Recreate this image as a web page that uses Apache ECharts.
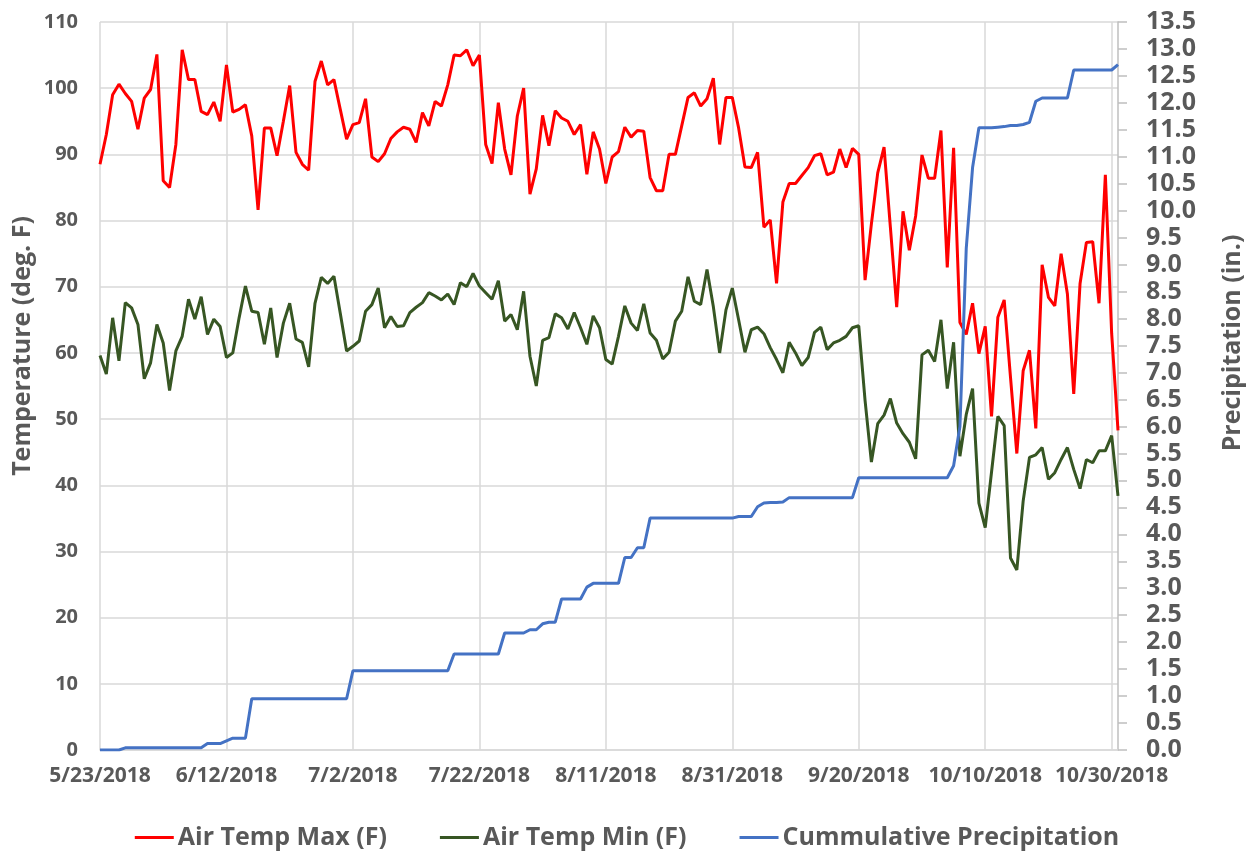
<!DOCTYPE html>
<html>
<head>
<meta charset="utf-8">
<script src="https://cdn.jsdelivr.net/npm/echarts@6/dist/echarts.min.js"></script>
<style>
html,body{margin:0;padding:0;background:#fff;}
#chart{width:1254px;height:857px;}
</style>
</head>
<body>
<div id="chart"></div>
<script>
// Dates: daily from 5/23/2018 to 10/31/2018
var startDate = '2018-05-23';
var dayCount = 162;

var airTempMax = [
  88.5, 93, 99, 100.6, 99.2, 98, 93.8, 98.5, 99.8, 105.1,
  86, 85, 91.5, 105.8, 101.3, 101.3, 96.5, 96, 97.9, 95,
  103.5, 96.4, 96.8, 97.5, 92.8, 81.6, 94, 94, 89.8, 95,
  100.4, 90.3, 88.5, 87.6, 101, 104.1, 100.5, 101.3, 96.8, 92.3,
  94.5, 94.8, 98.4, 89.6, 88.9, 90.1, 92.4, 93.4, 94.1, 93.8,
  91.8, 96.3, 94.3, 98, 97.3, 100.5, 105, 104.9, 105.8, 103.4,
  105, 91.5, 88.6, 97.8, 90.8, 86.9, 95.8, 100, 84, 87.8,
  95.9, 91.3, 96.6, 95.5, 95, 93, 94.5, 87, 93.4, 90.8,
  85.6, 89.6, 90.4, 94.1, 92.6, 93.6, 93.5, 86.5, 84.5, 84.5,
  90, 90, 94.3, 98.6, 99.3, 97.3, 98.4, 101.5, 91.5, 98.6,
  98.6, 94, 88.1, 88, 90.3, 79, 80.1, 70.5, 82.8, 85.6,
  85.6, 86.8, 88, 89.8, 90.1, 86.9, 87.3, 90.8, 88, 90.9,
  90, 71, 79.5, 87.2, 91.1, 79, 66.9, 81.4, 75.5, 80.7,
  89.9, 86.4, 86.4, 93.6, 72.9, 91, 64.6, 62.8, 67.5, 59.9,
  64, 50.4, 65.4, 68, 56.3, 44.8, 57.3, 60.4, 48.6, 73.3,
  68.4, 67.1, 75, 68.9, 53.8, 70.5, 76.7, 76.8, 67.5, 86.9,
  62.9, 48.3
];

var airTempMin = [
  59.6, 56.8, 65.3, 58.8, 67.6, 66.8, 64.3, 56.1, 58.5, 64.3,
  61.5, 54.3, 60.3, 62.5, 68.1, 65.1, 68.5, 62.8, 65.1, 64,
  59.3, 60, 65.3, 70.1, 66.3, 66.1, 61.3, 66.8, 59.3, 64.5,
  67.5, 62.1, 61.6, 57.9, 67.5, 71.4, 70.5, 71.6, 66, 60.3,
  61, 61.8, 66.3, 67.3, 69.8, 63.8, 65.5, 64, 64.1, 66.1,
  66.9, 67.6, 69.1, 68.6, 68, 68.9, 67.3, 70.6, 70, 72,
  70.1, 69.1, 68.1, 70.9, 64.8, 65.8, 63.5, 69.3, 59.5, 55,
  61.9, 62.3, 65.9, 65.3, 63.6, 66.1, 63.8, 61.3, 65.6, 63.8,
  59, 58.3, 62.5, 67.1, 64.5, 63.4, 67.4, 63, 61.9, 59.1,
  60.1, 64.8, 66.3, 71.5, 67.8, 67.3, 72.6, 67, 60, 66.5,
  69.8, 65, 60.1, 63.5, 63.9, 62.9, 60.8, 59, 57, 61.6,
  60, 58.1, 59.3, 63.1, 63.9, 60.5, 61.5, 61.9, 62.5, 63.8,
  64.1, 52.8, 43.5, 49.3, 50.6, 53.1, 49.4, 47.8, 46.5, 44,
  59.7, 60.4, 58.7, 65, 54.6, 61.6, 44.4, 50.7, 54.6, 37.3,
  33.6, 42, 50.4, 49, 29, 27.2, 37.6, 44.2, 44.6, 45.7,
  40.9, 41.9, 43.9, 45.7, 42.4, 39.5, 43.9, 43.4, 45.2, 45.2,
  47.5, 38.4
];

var cumPrecip = [
  0, 0, 0, 0, 0.04, 0.04, 0.04, 0.04, 0.04, 0.04,
  0.04, 0.04, 0.04, 0.04, 0.04, 0.04, 0.04, 0.12, 0.12, 0.12,
  0.17, 0.22, 0.22, 0.22, 0.95, 0.95, 0.95, 0.95, 0.95, 0.95,
  0.95, 0.95, 0.95, 0.95, 0.95, 0.95, 0.95, 0.95, 0.95, 0.95,
  1.47, 1.47, 1.47, 1.47, 1.47, 1.47, 1.47, 1.47, 1.47, 1.47,
  1.47, 1.47, 1.47, 1.47, 1.47, 1.47, 1.78, 1.78, 1.78, 1.78,
  1.78, 1.78, 1.78, 1.78, 2.17, 2.17, 2.17, 2.17, 2.23, 2.23,
  2.34, 2.37, 2.37, 2.8, 2.8, 2.8, 2.8, 3.02, 3.09, 3.09,
  3.09, 3.09, 3.09, 3.57, 3.57, 3.75, 3.75, 4.3, 4.3, 4.3,
  4.3, 4.3, 4.3, 4.3, 4.3, 4.3, 4.3, 4.3, 4.3, 4.3,
  4.3, 4.33, 4.33, 4.33, 4.51, 4.58, 4.59, 4.59, 4.6, 4.68,
  4.68, 4.68, 4.68, 4.68, 4.68, 4.68, 4.68, 4.68, 4.68, 4.68,
  5.05, 5.05, 5.05, 5.05, 5.05, 5.05, 5.05, 5.05, 5.05, 5.05,
  5.05, 5.05, 5.05, 5.05, 5.05, 5.27, 6.0, 9.3, 10.8, 11.54,
  11.54, 11.54, 11.55, 11.56, 11.58, 11.58, 11.6, 11.64, 12.03, 12.09,
  12.09, 12.09, 12.09, 12.09, 12.61, 12.61, 12.61, 12.61, 12.61, 12.61,
  12.61, 12.71
];

var seriesNames = ['Air Temp Max (F)', 'Air Temp Min (F)', 'Cummulative Precipitation'];

// build category labels (M/D/YYYY)
var dates = [];
(function () {
  var p = startDate.split('-');
  var d = new Date(Date.UTC(+p[0], +p[1] - 1, +p[2]));
  for (var i = 0; i < dayCount; i++) {
    dates.push((d.getUTCMonth() + 1) + '/' + d.getUTCDate() + '/' + d.getUTCFullYear());
    d.setUTCDate(d.getUTCDate() + 1);
  }
})();

var FONT = '"Open Sans", "Liberation Sans", sans-serif';
var TXT = '#595959';
var GRID = '#D9D9D9';

var chart = echarts.init(document.getElementById('chart'), null, {renderer: 'canvas'});
chart.setOption({
  animation: false,
  backgroundColor: '#ffffff',
  grid: {left: 100, right: 136, top: 22, bottom: 107, containLabel: false},
  legend: {
    data: seriesNames,
    bottom: 2,
    left: 'center',
    icon: 'rect',
    itemWidth: 39,
    itemHeight: 3,
    itemGap: 53,
    textStyle: {fontFamily: FONT, fontSize: 25, fontWeight: 'bold', color: TXT, padding: [0, 0, 0, -1]}
  },
  xAxis: {
    type: 'category',
    data: dates,
    boundaryGap: false,
    axisLine: {show: true, lineStyle: {color: GRID, width: 1.5}},
    axisTick: {show: false},
    axisLabel: {interval: 19, fontFamily: FONT, fontSize: 21, fontWeight: 'bold', color: TXT, margin: 16},
    splitLine: {show: true, interval: 19, lineStyle: {color: GRID, width: 1.5}}
  },
  yAxis: [
    {
      type: 'value', position: 'left', min: 0, max: 110, interval: 10,
      axisLine: {show: false}, axisTick: {show: false},
      axisLabel: {fontFamily: FONT, fontSize: 20, fontWeight: 'bold', color: TXT, margin: 22},
      splitLine: {show: true, lineStyle: {color: GRID, width: 1.5}}
    },
    {
      type: 'value', position: 'right', min: 0, max: 13.5, interval: 0.5,
      axisLine: {show: true, lineStyle: {color: '#BFBFBF', width: 1.5}},
      axisTick: {show: true, length: 9, lineStyle: {color: '#BFBFBF', width: 1.5}},
      axisLabel: {fontFamily: FONT, fontSize: 25, fontWeight: 'bold', color: TXT, margin: 28,
        formatter: function (v) { return v.toFixed(1); }},
      splitLine: {show: false}
    }
  ],
  graphic: [
    {type: 'text', x: 23, y: 346, rotation: Math.PI / 2,
      style: {text: 'Temperature (deg. F)', fontFamily: FONT, fontSize: 25, fontWeight: 'bold', fill: TXT,
        textAlign: 'center', textVerticalAlign: 'middle', align: 'center', verticalAlign: 'middle'}},
    {type: 'text', x: 1233, y: 343, rotation: Math.PI / 2,
      style: {text: 'Precipitation (in.)', fontFamily: FONT, fontSize: 25, fontWeight: 'bold', fill: TXT,
        textAlign: 'center', textVerticalAlign: 'middle', align: 'center', verticalAlign: 'middle'}}
  ],
  series: [
    {name: seriesNames[0], type: 'line', yAxisIndex: 0, data: airTempMax, showSymbol: false,
      symbol: 'none', lineStyle: {color: '#FF0000', width: 3}, itemStyle: {color: '#FF0000'}},
    {name: seriesNames[1], type: 'line', yAxisIndex: 0, data: airTempMin, showSymbol: false,
      symbol: 'none', lineStyle: {color: '#375623', width: 3}, itemStyle: {color: '#375623'}},
    {name: seriesNames[2], type: 'line', yAxisIndex: 1, data: cumPrecip, showSymbol: false,
      symbol: 'none', lineStyle: {color: '#4472C4', width: 3}, itemStyle: {color: '#4472C4'}}
  ]
});
</script>
</body>
</html>
